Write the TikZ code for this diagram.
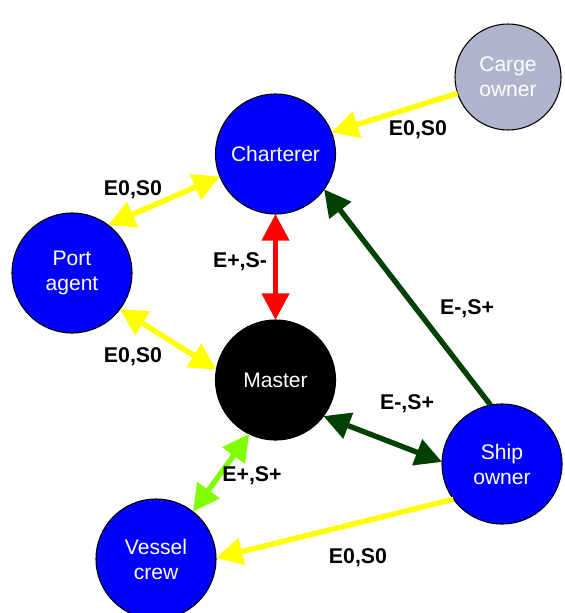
\documentclass[tikz,border=0pt]{standalone}
\usepackage{fontspec}
\setmainfont{Liberation Sans}
\usetikzlibrary{arrows.meta}
\definecolor{cblue}{HTML}{0000FF}
\definecolor{cgray}{HTML}{B0B4CC}
\definecolor{dgreen}{HTML}{004000}
\definecolor{lgreen}{HTML}{80FF00}
\definecolor{cyellow}{HTML}{FFFF00}
\definecolor{cred}{HTML}{FF0000}
\begin{document}
\begin{tikzpicture}[x=0.75pt,y=-0.75pt,
  actor/.style={circle,draw=black,line width=0.8pt,minimum size=90pt,inner sep=0pt,outer sep=0pt,
    text=white,align=center,font=\fontsize{15.8pt}{18.75pt}\selectfont},
  lbl/.style={font=\fontsize{16pt}{19pt}\selectfont\bfseries,text=black,inner sep=0pt},
  link/.style={line width=4pt,-{Triangle[length=20pt,width=20pt]}},
  dlink/.style={line width=4pt,{Triangle[length=20pt,width=20pt]}-{Triangle[length=20pt,width=20pt]}}]
\useasboundingbox (0,0) rectangle (564,613);
\node[actor,fill=cgray,minimum size=79.5pt] (carge) at (508,77) {Carge\\owner};
\node[actor,fill=cblue] (charterer) at (275.5,154) {Charterer};
\node[actor,fill=cblue] (port) at (72,273) {Port\\agent};
\node[actor,fill=black] (master) at (275.5,380) {Master};
\node[actor,fill=cblue] (ship) at (502,464) {Ship\\owner};
\node[actor,fill=cblue] (vessel) at (156,559) {Vessel\\crew};
% connectors
\draw[link,draw=cyellow,fill=cyellow] (carge.198) -- (charterer.21);
\draw[dlink,draw=cyellow,fill=cyellow] (charterer.202) -- (port.53);
\draw[dlink,draw=cred,fill=cred] (charterer.south) -- (master.north);
\draw[dlink,draw=cyellow,fill=cyellow] (port.-37) -- (master.170);
\draw[link,draw=dgreen,fill=dgreen] (ship.101.5) -- (charterer.-36);
\draw[dlink,draw=dgreen,fill=dgreen] (master.-37) -- (ship.178);
\draw[dlink,draw=lgreen,fill=lgreen] (master.244) -- (vessel.52);
\draw[link,draw=cyellow,fill=cyellow] (ship.216.5) -- (vessel.1);
% labels
\node[lbl] (l1) at (418,130) {E0,S0};
\node[lbl] (l2) at (133,190) {E0,S0};
\node[lbl] (l3) at (240,262) {E+,S-};
\node[lbl] (l4) at (133,357) {E0,S0};
\node[lbl] (l5) at (467,309) {E-,S+};
\node[lbl] (l6) at (407,404) {E-,S+};
\node[lbl] (l7) at (252,476) {E+,S+};
\node[lbl] (l8) at (358,558) {E0,S0};
\end{tikzpicture}
\end{document}
